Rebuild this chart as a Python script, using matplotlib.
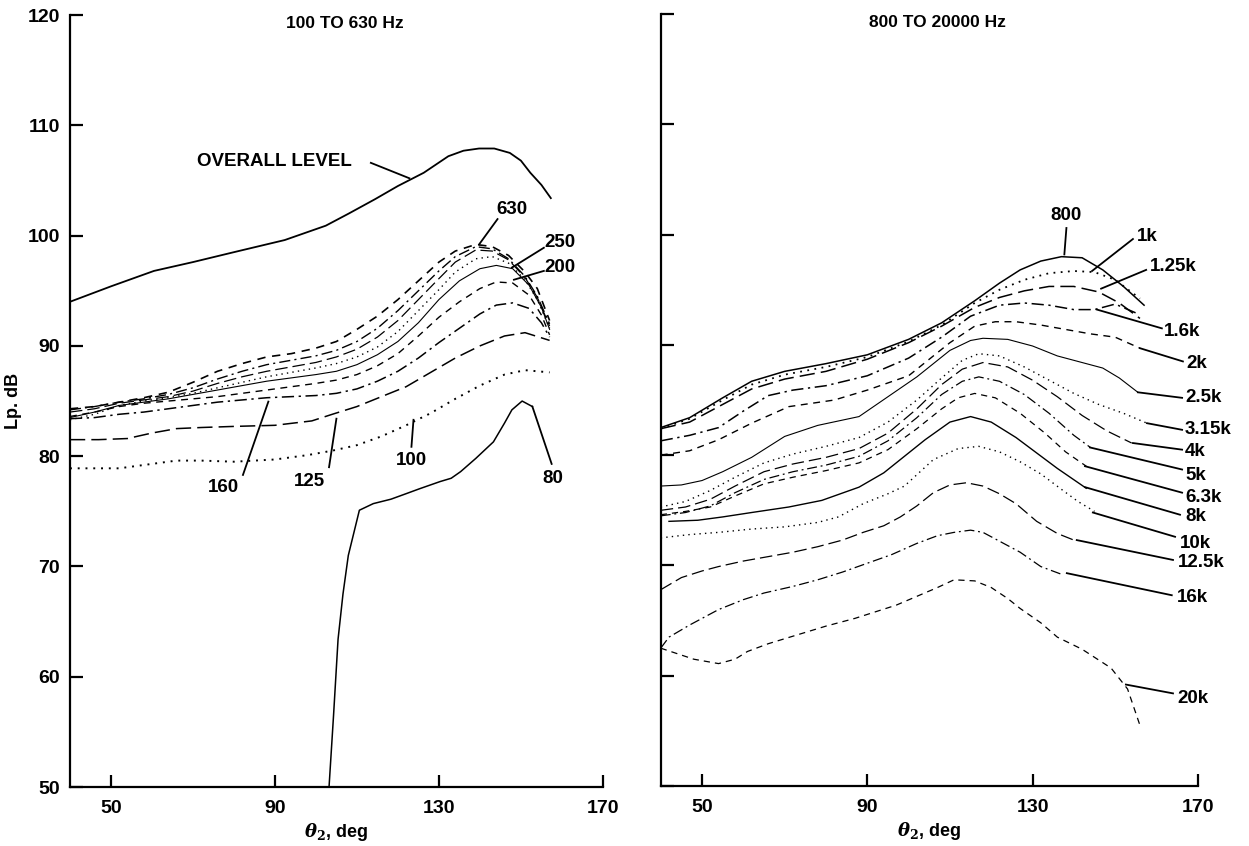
import matplotlib

matplotlib.use("Agg")
import matplotlib.pyplot as plt

plt.rcParams["font.family"] = ["Liberation Sans Narrow", "Liberation Sans", "DejaVu Sans"]
plt.rcParams["font.weight"] = "bold"
plt.rcParams["axes.labelweight"] = "bold"
plt.rcParams["mathtext.fontset"] = "dejavuserif"

# ---- data: left panel, 100 TO 630 Hz ----
x_overall = [40, 50, 60.5, 70, 80, 92.4, 102.4, 108, 114.4, 120, 126.3, 132.3, 136, 139.8, 143.5, 147.3, 150, 152.3, 155, 157.3]
y_overall = [94.0, 95.4, 96.8, 97.6, 98.5, 99.6, 100.9, 102.0, 103.3, 104.5, 105.7, 107.2, 107.7, 107.9, 107.9, 107.5, 106.8, 105.7, 104.6, 103.4]

x_80 = [103.2, 104.3, 105.4, 106.6, 107.9, 110.6, 114, 118.3, 122, 125.3, 130.3, 133, 135.3, 139, 143.3, 146, 147.8, 150.3, 152.8]
y_80 = [50.0, 56.5, 63.4, 67.5, 71.0, 75.1, 75.7, 76.1, 76.6, 77.05, 77.7, 78.0, 78.6, 79.8, 81.3, 83.0, 84.2, 85.0, 84.5]

x_100 = [40, 45, 52, 60, 66, 72, 80, 90, 98, 104, 110, 116, 122, 128, 134, 140, 146, 151, 157]
y_100 = [78.9, 78.9, 78.9, 79.3, 79.6, 79.6, 79.5, 79.7, 80.1, 80.5, 81.0, 81.8, 82.8, 83.9, 85.2, 86.4, 87.4, 87.8, 87.6]

x_125 = [40, 47, 54, 60, 66, 72, 80, 90, 99, 104, 110, 116, 122, 128, 134, 140, 146, 151, 157]
y_125 = [81.5, 81.5, 81.6, 82.1, 82.5, 82.6, 82.7, 82.8, 83.2, 83.8, 84.5, 85.4, 86.3, 87.6, 88.9, 90.0, 90.9, 91.2, 90.5]

x_mid = [40, 46, 52, 58, 64, 70, 76, 82, 88, 94, 100, 105, 110, 115, 120, 125, 130, 135, 140, 144, 148, 152, 155, 157]
y_160 = [83.4, 83.5, 83.8, 84.0, 84.3, 84.6, 84.9, 85.1, 85.3, 85.4, 85.5, 85.7, 86.1, 86.8, 87.7, 88.9, 90.3, 91.6, 92.9, 93.7, 93.9, 93.4, 92.1, 90.8]
y_200 = [83.6, 84.0, 84.5, 84.8, 85.0, 85.2, 85.4, 85.7, 86.0, 86.3, 86.6, 86.9, 87.4, 88.2, 89.3, 90.9, 92.6, 94.0, 95.2, 95.8, 95.7, 94.6, 92.8, 91.0]
y_250 = [83.5, 84.0, 84.6, 84.9, 85.2, 85.6, 86.0, 86.4, 86.8, 87.1, 87.4, 87.7, 88.3, 89.2, 90.4, 92.1, 94.2, 95.9, 97.0, 97.3, 97.0, 95.5, 93.5, 91.5]

x_top = [40, 46, 52, 58, 64, 70, 76, 82, 88, 94, 100, 105, 110, 115, 120, 125, 130, 134, 139, 143, 147, 151, 154, 157]
y_315 = [83.3, 83.8, 84.6, 85.0, 85.3, 85.7, 86.2, 86.7, 87.2, 87.6, 88.0, 88.4, 89.0, 89.9, 91.3, 93.2, 95.1, 96.7, 97.9, 98.1, 97.5, 96.0, 94.2, 91.6]
y_400 = [84.0, 84.3, 84.8, 85.1, 85.4, 85.9, 86.6, 87.2, 87.7, 88.1, 88.5, 89.0, 89.7, 90.8, 92.3, 94.2, 96.1, 97.6, 98.7, 98.6, 97.8, 96.2, 94.4, 91.8]
y_500 = [84.2, 84.5, 84.9, 85.2, 85.6, 86.2, 87.0, 87.7, 88.3, 88.7, 89.1, 89.6, 90.4, 91.6, 93.2, 95.0, 96.8, 98.1, 99.0, 98.8, 97.9, 96.3, 94.5, 92.0]
y_630 = [84.3, 84.5, 84.9, 85.3, 85.8, 86.7, 87.7, 88.4, 89.0, 89.3, 89.8, 90.4, 91.5, 92.7, 94.2, 95.9, 97.6, 98.6, 99.2, 99.0, 98.2, 96.7, 95.2, 92.3]

# ---- data: right panel, 800 TO 20000 Hz ----
x_800 = [40, 47, 55, 62, 70, 80, 90, 100, 108, 116, 122, 127, 132, 137, 142, 147, 152, 157]
y_800 = [82.5, 83.4, 85.2, 86.7, 87.6, 88.3, 89.1, 90.5, 92.0, 94.0, 95.6, 96.8, 97.6, 98.0, 97.9, 96.8, 95.3, 93.6]
x_1k = [40, 47, 55, 62, 70, 80, 90, 100, 108, 116, 122, 128, 134, 140, 145, 150, 156]
y_1k = [82.4, 83.3, 85.0, 86.4, 87.3, 88.0, 88.9, 90.3, 91.8, 93.8, 95.0, 95.9, 96.5, 96.7, 96.6, 95.9, 94.2]
x_1250 = [40, 47, 55, 62, 70, 80, 90, 100, 108, 116, 122, 128, 134, 140, 146, 151, 156]
y_1250 = [82.4, 83.0, 84.6, 86.0, 86.9, 87.6, 88.7, 90.2, 91.7, 93.4, 94.3, 94.9, 95.3, 95.3, 94.8, 93.8, 92.4]
x_1600 = [40, 47, 54, 60, 66, 72, 80, 90, 100, 108, 115, 122, 128, 134, 140, 145, 150, 155]
y_1600 = [81.3, 81.8, 82.5, 84.0, 85.4, 85.9, 86.3, 87.2, 88.8, 90.7, 92.6, 93.6, 93.8, 93.6, 93.2, 93.2, 93.7, 92.9]
x_2k = [40, 47, 54, 62, 71, 82, 90, 100, 110, 116, 121, 126, 132, 138, 144, 150, 156]
y_2k = [80.0, 80.4, 81.4, 82.9, 84.4, 85.0, 85.9, 87.2, 90.2, 91.7, 92.1, 92.1, 91.8, 91.4, 91.0, 90.7, 89.7]
x_2500 = [40, 45, 50, 55, 62, 70, 78, 88, 95, 102, 110, 115, 118, 124, 130, 136, 142, 147, 151, 155.5]
y_2500 = [77.2, 77.3, 77.7, 78.5, 79.8, 81.7, 82.7, 83.5, 85.3, 87.1, 89.5, 90.4, 90.6, 90.5, 89.9, 89.0, 88.4, 87.9, 87.0, 85.7]
x_3150 = [40, 46, 52, 58, 65, 72, 80, 88, 95, 102, 108, 113, 117, 122, 128, 134, 140, 146, 152, 157.7]
y_3150 = [75.3, 75.8, 76.8, 78.0, 79.3, 80.1, 80.8, 81.6, 83.0, 85.0, 87.0, 88.6, 89.2, 89.0, 88.0, 86.8, 85.6, 84.6, 83.8, 82.9]
x_4k = [40, 46, 52, 58, 65, 72, 80, 88, 95, 102, 108, 113, 118, 124, 130, 136, 142, 148, 154]
y_4k = [75.0, 75.3, 76.0, 77.2, 78.5, 79.2, 79.8, 80.6, 82.0, 84.2, 86.4, 87.8, 88.4, 88.0, 86.8, 85.3, 83.6, 82.2, 81.1]
x_5k = [40, 46, 52, 58, 65, 72, 80, 88, 95, 102, 108, 113, 117, 122, 128, 134, 140, 144]
y_5k = [74.5, 74.8, 75.4, 76.6, 77.8, 78.5, 79.1, 79.9, 81.3, 83.4, 85.5, 86.7, 87.1, 86.7, 85.5, 83.8, 81.8, 80.7]
x_6300 = [40, 46, 52, 58, 65, 72, 80, 88, 95, 102, 108, 112, 116, 121, 127, 133, 138, 143]
y_6300 = [74.6, 74.9, 75.3, 76.3, 77.4, 78.0, 78.6, 79.3, 80.5, 82.4, 84.2, 85.2, 85.6, 85.2, 83.8, 82.0, 80.3, 79.0]
x_8k = [42, 49, 55, 62, 71, 79, 88, 94, 100, 104, 110, 115, 120, 126, 131, 136, 143]
y_8k = [74.0, 74.1, 74.4, 74.8, 75.3, 75.9, 77.1, 78.4, 80.2, 81.4, 83.0, 83.5, 83.0, 81.6, 80.2, 78.8, 77.0]
x_10k = [40, 47, 54, 62, 70, 78, 83, 89, 95, 99, 106, 112, 117, 122, 127, 132, 137, 141, 145]
y_10k = [72.5, 72.8, 73.0, 73.3, 73.5, 73.9, 74.4, 75.6, 76.5, 77.2, 79.6, 80.6, 80.8, 80.3, 79.4, 78.3, 76.9, 75.8, 74.9]
x_12500 = [40, 45, 50, 54, 60, 66, 72, 78, 84, 89, 94, 98, 102, 106, 110, 114, 118, 122, 126, 131, 136, 140]
y_12500 = [67.8, 68.9, 69.5, 69.9, 70.4, 70.8, 71.2, 71.7, 72.3, 73.0, 73.6, 74.4, 75.4, 76.6, 77.3, 77.5, 77.2, 76.5, 75.6, 74.0, 72.9, 72.3]
x_16k = [40, 42, 47, 54, 60, 65, 72, 78, 84, 90, 96, 102, 107, 111, 115, 118, 122, 127, 132, 137]
y_16k = [62.5, 63.5, 64.6, 66.0, 66.9, 67.5, 68.1, 68.7, 69.4, 70.2, 71.0, 72.0, 72.7, 73.0, 73.2, 73.0, 72.2, 71.2, 69.9, 69.2]
x_20k = [40, 44, 48, 54, 58, 61, 66, 73, 80, 87, 92, 97, 102, 107, 111, 116, 120, 124, 127, 132, 136, 142, 149, 153, 156]
y_20k = [62.5, 62.0, 61.5, 61.1, 61.5, 62.2, 62.9, 63.7, 64.5, 65.2, 65.8, 66.4, 67.2, 68.0, 68.7, 68.6, 68.0, 67.0, 66.1, 64.8, 63.5, 62.4, 60.7, 58.8, 55.5]

x_ticks = [50, 90, 130, 170]
y_ticks = [50, 60, 70, 80, 90, 100, 110, 120]

# line styles (solid, dotted, long dash, dash-dot, dashed) cycle through the bands
DOT = (0, (1, 3))
LONG = (0, (10, 4))
DASHDOT = (0, (8, 3, 1.5, 3))
DASH = (0, (5, 4))

left_curves = [
    (x_overall, y_overall, "-", 1.3),
    (x_80, y_80, "-", 1.1),
    (x_100, y_100, DOT, 1.4),
    (x_125, y_125, LONG, 1.1),
    (x_mid, y_160, DASHDOT, 1.1),
    (x_mid, y_200, DASH, 1.0),
    (x_mid, y_250, "-", 0.8),
    (x_top, y_315, DOT, 1.0),
    (x_top, y_400, LONG, 0.9),
    (x_top, y_500, DASHDOT, 1.0),
    (x_top, y_630, DASH, 1.2),
]
right_curves = [
    (x_800, y_800, "-", 1.1),
    (x_1k, y_1k, DOT, 1.3),
    (x_1250, y_1250, LONG, 1.1),
    (x_1600, y_1600, DASHDOT, 1.1),
    (x_2k, y_2k, DASH, 1.0),
    (x_2500, y_2500, "-", 0.8),
    (x_3150, y_3150, DOT, 1.0),
    (x_4k, y_4k, LONG, 0.9),
    (x_5k, y_5k, DASHDOT, 0.9),
    (x_6300, y_6300, DASH, 0.9),
    (x_8k, y_8k, "-", 1.0),
    (x_10k, y_10k, DOT, 1.0),
    (x_12500, y_12500, LONG, 0.9),
    (x_16k, y_16k, DASHDOT, 0.9),
    (x_20k, y_20k, DASH, 0.9),
]

# (text, text x, text y, ha, leader from, leader to)
left_labels = [
    ("OVERALL LEVEL", 90, 106.7, "center", (113.4, 106.6), (122.8, 105.2)),
    ("630", 147.8, 102.4, "center", (144.3, 101.5), (139.8, 99.2)),
    ("250", 155.8, 99.4, "left", (155.6, 98.9), (147.8, 97.1)),
    ("200", 155.8, 97.1, "left", (155.6, 96.8), (148.3, 96.0)),
    ("160", 77.4, 77.2, "center", (82.2, 78.3), (88.4, 84.95)),
    ("125", 98.4, 77.7, "center", (103.2, 79.0), (105.0, 83.4)),
    ("100", 123.3, 79.6, "center", (123.3, 80.85), (123.8, 83.3)),
    ("80", 157.8, 78.0, "center", (157.5, 79.3), (152.8, 84.5)),
]
right_labels = [
    ("800", 138.2, 101.7, "center", (138.2, 100.6), (137.7, 98.2)),
    ("1k", 155.2, 99.8, "left", (154.3, 99.6), (144.4, 96.7)),
    ("1.25k", 158.3, 97.1, "left", (157.5, 96.8), (146.6, 95.1)),
    ("1.6k", 161.8, 91.2, "left", (161.3, 91.5), (145.6, 93.2)),
    ("2k", 167.2, 88.3, "left", (166.4, 88.5), (156.0, 89.7)),
    ("2.5k", 166.9, 85.2, "left", (166.2, 85.2), (155.5, 85.7)),
    ("3.15k", 166.9, 82.3, "left", (166.2, 82.3), (157.7, 82.9)),
    ("4k", 166.9, 80.3, "left", (166.2, 80.5), (154.3, 81.1)),
    ("5k", 166.9, 78.2, "left", (166.2, 78.7), (143.9, 80.7)),
    ("6.3k", 166.9, 76.2, "left", (166.2, 76.6), (142.7, 79.0)),
    ("8k", 166.9, 74.4, "left", (165.7, 74.6), (142.7, 77.1)),
    ("10k", 165.7, 72.0, "left", (164.5, 72.6), (144.6, 74.8)),
    ("12.5k", 165.2, 70.3, "left", (164.0, 70.5), (140.7, 72.3)),
    ("16k", 164.9, 67.1, "left", (163.7, 67.3), (138.3, 69.3)),
    ("20k", 165.1, 57.9, "left", (164.0, 58.4), (152.6, 59.2)),
]


def style_axes(ax, title, show_ylabels):
    ax.set_xlim(40, 170)
    ax.set_ylim(50, 120)
    ax.set_xticks(x_ticks)
    ax.set_yticks(y_ticks)
    for side in ("top", "right"):
        ax.spines[side].set_visible(False)
    for side in ("left", "bottom"):
        ax.spines[side].set_linewidth(1.6)
    ax.tick_params(direction="in", length=9, width=1.6, labelsize=14)
    ax.tick_params(axis="x", pad=9)
    ax.tick_params(axis="y", pad=7, labelleft=show_ylabels)
    ax.set_xlabel(r"$\theta_2$, deg", fontsize=13, labelpad=3)
    ax.text(107, 119.2, title, ha="center", va="center", fontsize=12.5)


def draw_panel(ax, curves, labels):
    for xs, ys, ls, lw in curves:
        ax.plot(xs, ys, color="black", linestyle=ls, linewidth=lw)
    for text, tx, ty, ha, (x0, y0), (x1, y1) in labels:
        ax.plot([x0, x1], [y0, y1], color="black", linewidth=1.3, clip_on=False)
        ax.text(tx, ty, text, ha=ha, va="center", fontsize=13.5, clip_on=False)


fig = plt.figure(figsize=(12.49, 8.46), dpi=100)
ax1 = fig.add_axes([0.056, 0.0697, 0.4267, 0.9125])
ax2 = fig.add_axes([0.529, 0.0709, 0.430, 0.9125])

style_axes(ax1, "100 TO 630 Hz", True)
style_axes(ax2, "800 TO 20000 Hz", False)
ax1.set_ylabel("Lp. dB", fontsize=13, labelpad=4)

draw_panel(ax1, left_curves, left_labels)
draw_panel(ax2, right_curves, right_labels)

fig.savefig("out.png", dpi=100)
